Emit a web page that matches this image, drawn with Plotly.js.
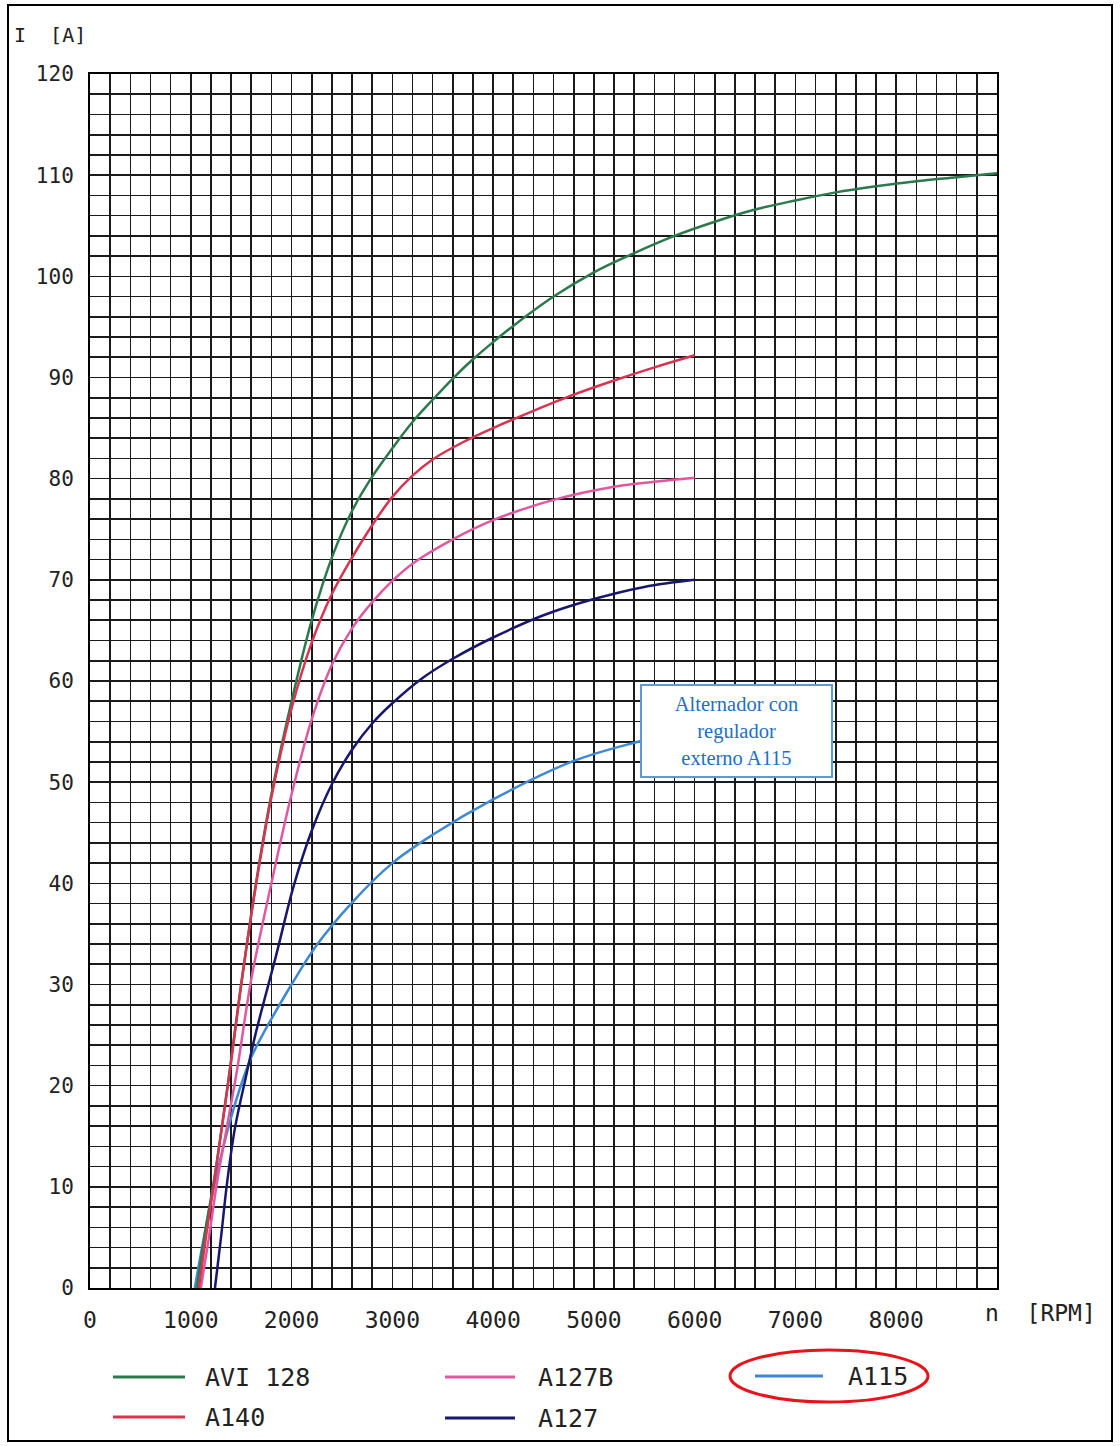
<!DOCTYPE html>
<html><head><meta charset="utf-8">
<script src="https://cdn.plot.ly/plotly-3.0.1.min.js"></script>
<style>html,body{margin:0;padding:0;background:#fff}#chart{width:1120px;height:1446px}</style>
</head><body><div id="chart"></div>
<script>
// ---- data ----
const seriesNames = ["AVI 128", "A140", "A127B", "A127", "A115"];

const rpmAVI128 = [1060,1150,1230,1310,1390,1500,1650,1800,2000,2200,2400,2600,2800,3000,3200,3400,3600,3800,4000,4200,4600,5000,5400,5800,6200,6600,7000,7400,7800,8200,8600,9000];
const ampAVI128 = [0,6,10.6,16,21.8,30,40.2,48.8,58,66,72.2,76.8,80.2,83,85.6,87.8,89.9,91.8,93.5,95.1,98,100.4,102.3,104,105.4,106.6,107.5,108.3,108.9,109.4,109.8,110.2];

const rpmA140 = [1080,1150,1230,1310,1390,1500,1650,1800,2000,2200,2400,2600,2800,3000,3200,3400,3700,4000,4400,4800,5200,5600,6000];
const ampA140 = [0,5,10.4,16,21.6,30,40,48.5,57.3,63.8,68.6,72.2,75.4,78.2,80.3,81.9,83.6,85,86.7,88.3,89.7,91,92.2];

const rpmA127B = [1100,1180,1260,1360,1460,1600,1800,2000,2200,2400,2600,2800,3000,3200,3600,4000,4600,5200,5600,6000];
const ampA127B = [0,5,10.4,16,21.6,30.5,40,48.8,56.2,61.6,65.2,67.8,69.9,71.6,74,75.9,77.9,79.2,79.7,80.1];

const rpmA127 = [1240,1300,1360,1440,1550,1640,1850,2020,2200,2400,2600,2800,3000,3300,3600,4000,4500,5000,5500,6000];
const ampA127 = [0,5,10.4,15.9,21,25,33,39.7,45.2,49.8,53.2,55.8,57.8,60.3,62.2,64.3,66.5,68.1,69.3,70];

const rpmA115 = [1040,1130,1230,1350,1480,1600,1700,1800,2000,2250,2600,3000,3400,4000,4800,5440,6000];
const ampA115 = [0,5,10,15,19.5,22.8,24.8,26.6,30,33.9,38.1,42,44.8,48.3,52.1,54,55.3];

const xTickVals = [0,1000,2000,3000,4000,5000,6000,7000,8000];
const xTickText = ["0","1000","2000","3000","4000","5000","6000","7000","8000"];
const yTickVals = [0,10,20,30,40,50,60,70,80,90,100,110,120];

const colors = {"AVI 128":"#2c7a4b","A140":"#d9334f","A127B":"#e2589e","A127":"#17176e","A115":"#3f88d6"};

const noteText = "Alternador con<br>regulador<br>externo A115";
const xUnit = "n  [RPM]";
const yUnit = "I  [A]";

// ---- traces ----
function tr(name, x, y){
  return {type:"scatter", mode:"lines", name:name, x:x, y:y,
    line:{color:colors[name], width:2.5, shape:"spline", smoothing:1.0},
    showlegend:false, hoverinfo:"x+y+name"};
}
const data = [
  tr("A115", rpmA115, ampA115),
  tr("A127", rpmA127, ampA127),
  tr("A127B", rpmA127B, ampA127B),
  tr("AVI 128", rpmAVI128, ampAVI128),
  tr("A140", rpmA140, ampA140)
];

// ---- manual legend (px -> paper) ----
const L=90, R=997, T=74, B=1288;
const px = v => (v-L)/(R-L);
const py = v => (B-v)/(B-T);
const mono = "DejaVu Sans Mono, Liberation Mono, monospace";

const legendItems = [
  {name:"AVI 128", x0:113, x1:185, tx:203, y:1377},
  {name:"A140",    x0:113, x1:185, tx:203, y:1417},
  {name:"A127B",   x0:445, x1:515, tx:536, y:1377},
  {name:"A127",    x0:445, x1:515, tx:536, y:1418},
  {name:"A115",    x0:755, x1:823, tx:846, y:1376}
];

const shapes = [
  {type:"rect", xref:"paper", yref:"paper", x0:px(8), x1:px(1112), y0:py(1441), y1:py(5),
   line:{color:"#000", width:2}, layer:"below"},
  {type:"circle", xref:"paper", yref:"paper", x0:px(730), x1:px(928), y0:py(1402), y1:py(1350),
   line:{color:"#e8141b", width:3}}
];
const annotations = [];
legendItems.forEach(it=>{
  shapes.push({type:"line", xref:"paper", yref:"paper", x0:px(it.x0), x1:px(it.x1), y0:py(it.y), y1:py(it.y),
    line:{color:colors[it.name], width:3}});
  annotations.push({xref:"paper", yref:"paper", x:px(it.tx), y:py(it.y), xanchor:"left", yanchor:"middle",
    text:it.name, showarrow:false, font:{family:mono, size:25, color:"#222"}});
});
annotations.push({xref:"paper", yref:"paper", x:px(12), y:py(35), xanchor:"left", yanchor:"middle",
  text:yUnit, showarrow:false, font:{family:mono, size:20, color:"#222"}});
annotations.push({xref:"paper", yref:"paper", x:px(1040), y:py(1313), xanchor:"center", yanchor:"middle",
  text:xUnit, showarrow:false, font:{family:mono, size:23, color:"#222"}});
annotations.push({xref:"x", yref:"y", x:6414, y:55.1, xanchor:"center", yanchor:"middle",
  text:noteText, showarrow:false, align:"center", width:187, height:88,
  bgcolor:"#ffffff", bordercolor:"#5b9bd5", borderwidth:2, borderpad:1,
  font:{family:"Liberation Serif, Times New Roman, serif", size:20.5, color:"#1f6fc2"}});

const layout = {
  width:1120, height:1446,
  margin:{l:L, r:1120-R, t:T, b:1446-B, autoexpand:false},
  paper_bgcolor:"#fff", plot_bgcolor:"#fff",
  showlegend:false,
  xaxis:{range:[0,9000], tickmode:"array", tickvals:xTickVals, ticktext:xTickText,
    showgrid:true, gridcolor:"#1a1a1a", gridwidth:1.6,
    minor:{tickmode:"linear", tick0:0, dtick:200, showgrid:true, gridcolor:"#1a1a1a", gridwidth:1.6},
    showline:true, mirror:true, linecolor:"#000", linewidth:2, zeroline:false,
    ticks:"", ticklabelstandoff:10, automargin:false,
    tickfont:{family:mono, size:23, color:"#222"}},
  yaxis:{range:[0,120], tickmode:"array", tickvals:yTickVals,
    showgrid:true, gridcolor:"#1a1a1a", gridwidth:1.6,
    minor:{tickmode:"linear", tick0:0, dtick:2, showgrid:true, gridcolor:"#1a1a1a", gridwidth:1.6},
    showline:true, mirror:true, linecolor:"#000", linewidth:2, zeroline:false,
    ticks:"", ticklabelstandoff:10, automargin:false,
    tickfont:{family:mono, size:21, color:"#222"}},
  shapes:shapes,
  annotations:annotations
};

Plotly.newPlot("chart", data, layout, {displayModeBar:false, staticPlot:true});
</script>
</body></html>
